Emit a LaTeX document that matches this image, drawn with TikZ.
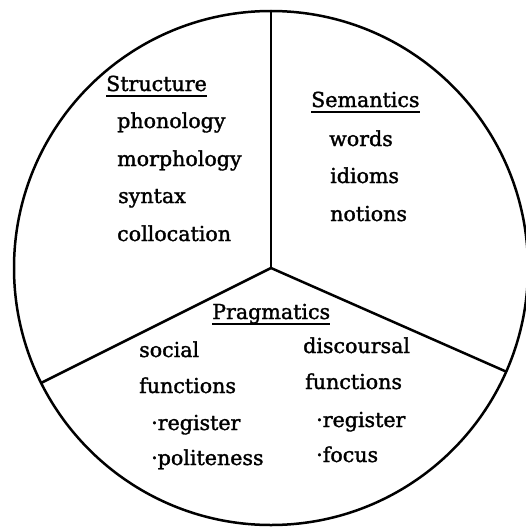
\documentclass[tikz,border=0pt]{standalone}
\usepackage{fontspec}
\setmainfont[FakeBold=1.5]{DejaVu Serif}
\begin{document}
\begin{tikzpicture}[x=1pt,y=-1pt,
  rim/.style={line width=2.5pt},
  divider/.style={line width=2.5pt},
  word/.style={anchor=base west,inner sep=0pt,font=\fontsize{20.6}{24}\selectfont},
  heading/.style={word},
  uline/.style={line width=2pt}]
\useasboundingbox (0,0) rectangle (526,527);
\clip (0,0) rectangle (526,527);

% pie outline and the three sectors
\coordinate (c) at (271,268);
\coordinate (top) at (271,11);
\coordinate (ll) at (41,383);
\coordinate (lr) at (507,372);
\draw[rim] (c) circle[radius=257pt];
\draw[divider] (c) -- (top);
\draw[divider] (c) -- (ll);
\draw[divider] (c) -- (lr);

% Structure sector
\node[heading] (hs) at (106,91) {Structure};
\draw[uline] ([yshift=-5pt]hs.base west) -- ([yshift=-5pt]hs.base east);
\node[word] (s1) at (117,128) {phonology};
\node[word] (s2) at (117,166) {morphology};
\node[word] (s3) at (118,203) {syntax};
\node[word] (s4) at (117,241) {collocation};

% Semantics sector
\node[heading] (hm) at (311,107) {Semantics};
\draw[uline] ([yshift=-5pt]hm.base west) -- ([yshift=-5pt]hm.base east);
\node[word] (m1) at (329,146) {words};
\node[word] (m2) at (330,183) {idioms};
\node[word] (m3) at (330,221) {notions};

% Pragmatics sector
\node[heading] (hp) at (212,319) {Pragmatics};
\draw[uline] ([yshift=-5pt]hp.base west) -- ([yshift=-5pt]hp.base east);
\node[word] (p1) at (139,357) {social};
\node[word] (p2) at (139,393) {functions};
\node[word] (p3) at (151,430) {·register};
\node[word] (p4) at (151,465) {·politeness};
\node[word] (q1) at (303,353) {discoursal};
\node[word] (q2) at (305,389) {functions};
\node[word] (q3) at (316,427) {·register};
\node[word] (q4) at (316,462) {·focus};
\end{tikzpicture}
\end{document}
